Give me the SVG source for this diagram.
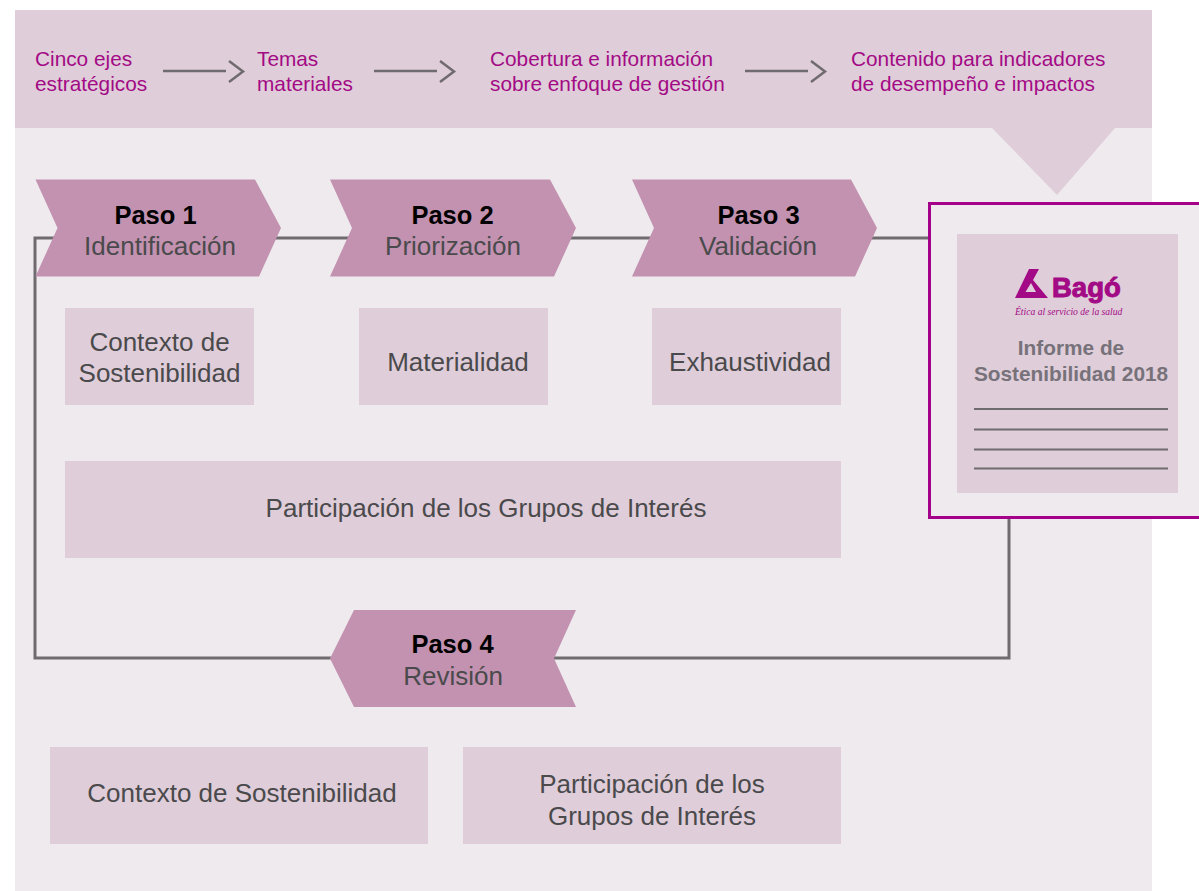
<svg xmlns="http://www.w3.org/2000/svg" width="1199" height="891" viewBox="0 0 1199 891">
<defs><style>
text{font-family:"Liberation Sans",Arial,sans-serif}
.h{font-size:20.8px;fill:#a30a85}
.b{fill:#dfcdd9}
.c{fill:#c292b0}
.t{font-size:26px;fill:#4a4a4c;text-anchor:middle}
.p{font-size:25.500px;font-weight:bold;fill:#000;text-anchor:middle}
.l{fill:none;stroke:#6f6b6e;stroke-width:3}
.a{fill:none;stroke:#6f6b6e;stroke-width:2.5}
.r{stroke:#6f6b6e;stroke-width:2;fill:none}
.g{font-size:20.800px;font-weight:bold;fill:#77727a;text-anchor:middle}
</style></defs>
<rect x="15" y="128" width="1137" height="763" fill="#efeaee"/>
<path class="b" d="M15 10H1152V128H1115L1057 195L992 128H15Z"/>
<g id="connectors">
<path class="l" d="M70 238H35V658H350"/>
<path class="l" d="M270 238H360M565 238H660M870 238H935"/>
<path class="l" d="M1009 518V658H550"/>
<path class="a" d="M163 71H226M229 61L243 71.500L229 82"/>
<path class="a" d="M374 71H437M440 61L454 71.500L440 82"/>
<path class="a" d="M745 71H808M811 61L825 71.500L811 82"/>
</g>
<g id="header-text">
<text class="h" x="35" y="66">Cinco ejes</text><text class="h" x="35" y="91">estratégicos</text>
<text class="h" x="257" y="66">Temas</text><text class="h" x="257" y="91">materiales</text>
<text class="h" x="490" y="66">Cobertura e información</text><text class="h" x="490" y="91">sobre enfoque de gestión</text>
<text class="h" x="851" y="66">Contenido para indicadores</text><text class="h" x="851" y="91">de desempeño e impactos</text>
</g>
<g id="paso1"><path class="c" d="M35.500 179.500H255L281 228L259 276.500H35.500L57.500 228Z"/><text class="p" x="155.500" y="224">Paso 1</text><text class="t" x="160" y="255">Identificación</text></g>
<g id="paso2"><path class="c" d="M330 179.500H550L576 228L554 276.500H330L352 228Z"/><text class="p" x="452.500" y="224">Paso 2</text><text class="t" x="453" y="255">Priorización</text></g>
<g id="paso3"><path class="c" d="M632 179.500H851L877 228L855 276.500H632L654 228Z"/><text class="p" x="758.500" y="224">Paso 3</text><text class="t" x="758" y="255">Validación</text></g>
<g id="paso4"><path class="c" d="M576 610H354L330 658.500L354 707H576L554 658.500Z"/><text class="p" x="452.500" y="653">Paso 4</text><text class="t" x="453" y="685">Revisión</text></g>
<g id="contexto1"><rect class="b" x="65" y="308" width="189" height="97"/><text class="t" x="159.500" y="351">Contexto de</text><text class="t" x="159.500" y="382">Sostenibilidad</text></g>
<g id="materialidad"><rect class="b" x="359" y="308" width="189" height="97"/><text class="t" x="458" y="371">Materialidad</text></g>
<g id="exhaustividad"><rect class="b" x="652" y="308" width="189" height="97"/><text class="t" x="750" y="371">Exhaustividad</text></g>
<g id="participacion1"><rect class="b" x="65" y="461" width="776" height="97"/><text class="t" x="486" y="517">Participación de los Grupos de Interés</text></g>
<g id="contexto2"><rect class="b" x="50" y="747" width="378" height="97"/><text class="t" x="242" y="802">Contexto de Sostenibilidad</text></g>
<g id="participacion2"><rect class="b" x="463" y="747" width="378" height="97"/><text class="t" x="652" y="793">Participación de los</text><text class="t" x="652" y="825">Grupos de Interés</text></g>
<g id="informe">
<rect x="929.500" y="203.500" width="272" height="314" fill="#efeaee" stroke="#a5008a" stroke-width="3"/>
<rect class="b" x="957" y="234" width="221" height="259"/>
<path fill="#a30a85" fill-rule="evenodd" d="M1029 269H1039L1033 280L1048 298H1015ZM1031 283L1025.500 292H1036Z"/>
<text x="1052" y="297" font-size="27.500" font-weight="bold" fill="#a30a85" stroke="#a30a85" stroke-width="1" style="font-family:'Liberation Sans',sans-serif">Bagó</text>
<text x="1015" y="315" font-size="9.600" font-style="italic" fill="#a30a85" style="font-family:'Liberation Serif',serif">Ética al servicio de la salud</text>
<text class="g" x="1071" y="355">Informe de</text><text class="g" x="1071" y="381">Sostenibilidad 2018</text>
<path class="r" d="M974 409H1168M974 429.500H1168M974 449.500H1168M974 468.500H1168"/>
</g>
</svg>
